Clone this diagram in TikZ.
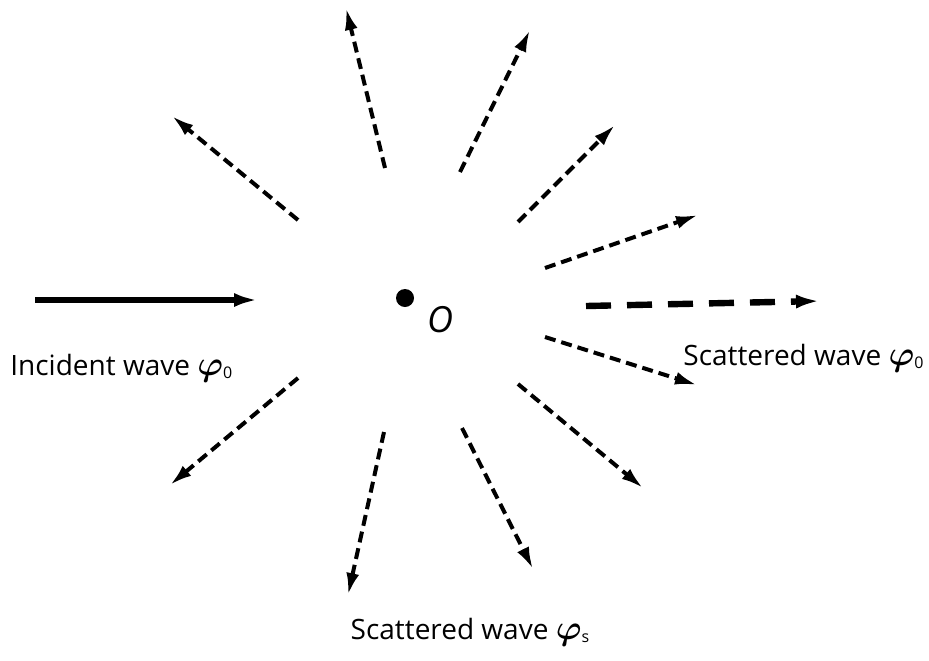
\documentclass[tikz,border=0pt]{standalone}
\usepackage{fontspec}
\setmainfont{Open Sans}
\usepackage{amsmath}
\usepackage{tikz}
\usetikzlibrary{arrows.meta}

\tikzset{
  wave/.style={line width=2pt, dash pattern=on 5.5pt off 3pt, -{Latex[length=11pt,width=6.5pt]}},
  bigwave/.style={line width=3.2pt, dash pattern=on 12.5pt off 8pt, -{Latex[length=12pt,width=7pt]}},
  incident/.style={line width=3.2pt, -{Latex[length=12pt,width=7pt]}},
  lbl/.style={font=\fontsize{14}{16}\selectfont, inner sep=0pt}
}
\newcommand{\phiidx}[1]{{\fontsize{16}{16}\selectfont$\boldsymbol{\varphi}$}\raisebox{-0.2ex}{\fontsize{8}{8}\selectfont #1}}

\begin{document}
\begin{tikzpicture}[x=0.5pt, y=-0.5pt]
\useasboundingbox (0,0) rectangle (929,660);
% scatterer
\fill (405,298) circle (9);
\node[lbl, font=\fontsize{18}{20}\selectfont\itshape] (o) at (440,320) {O};
% incident wave
\coordinate (in1) at (35,300);
\coordinate (in2) at (258,300);
\draw[incident] (in1) -- (in2);
\node[lbl, anchor=west] (inlbl) at (10,368) {Incident wave \phiidx{0}};
% forward scattered wave
\coordinate (fw1) at (586,306);
\coordinate (fw2) at (820,301);
\draw[bigwave] (fw1) -- (fw2);
\node[lbl, anchor=west] (fwlbl) at (683,358) {Scattered wave \phiidx{0}};
% scattered waves
\foreach \i/\sx/\sy/\ex/\ey in {1/298/220/172/116, 2/385/168/346/8, 3/460/172/530/30,
  4/518/222/615/125, 5/545/268/698/215, 6/545/337/697/385, 7/518/384/643/488,
  8/462/428/533/569, 9/384/432/348/595, 10/298/378/170/485}{
  \coordinate (s\i) at (\sx,\sy);
  \coordinate (e\i) at (\ex,\ey);
  \draw[wave] (s\i) -- (e\i);
}
\node[lbl] (sclbl) at (470,632) {Scattered wave \phiidx{s}};
\end{tikzpicture}
\end{document}
